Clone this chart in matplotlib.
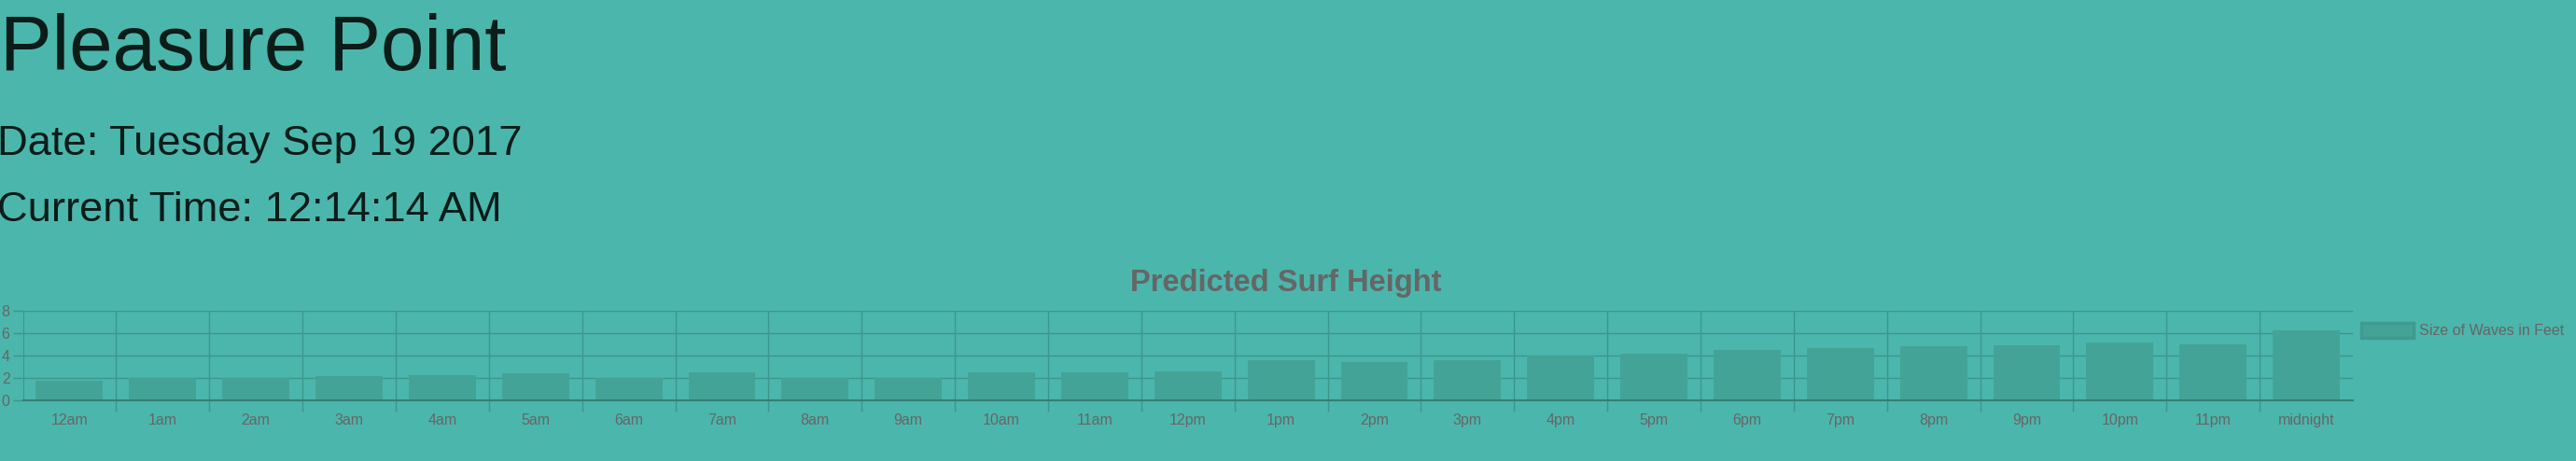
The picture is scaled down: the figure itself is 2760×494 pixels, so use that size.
import numpy as np
import matplotlib
matplotlib.use("Agg")
import matplotlib.pyplot as plt
from matplotlib.patches import Patch

# datos
horas = ["12am", "1am", "2am", "3am", "4am", "5am", "6am", "7am", "8am", "9am",
         "10am", "11am", "12pm", "1pm", "2pm", "3pm", "4pm", "5pm", "6pm", "7pm",
         "8pm", "9pm", "10pm", "11pm", "midnight"]
olas = [1.8, 2.0, 2.05, 2.15, 2.25, 2.4, 2.0, 2.5, 2.0, 2.0,
        2.5, 2.5, 2.6, 3.6, 3.4, 3.6, 4.0, 4.2, 4.5, 4.7,
        4.85, 4.95, 5.2, 5.05, 6.3]
y_ticks = [0, 2, 4, 6, 8]

titulo = "Pleasure Point"
fecha = "Date: Tuesday Sep 19 2017"
hora_actual = "Current Time: 12:14:14 AM"
titulo_grafico = "Predicted Surf Height"
leyenda = "Size of Waves in Feet"

fondo = "#4bb6ac"
barra = "#44a397"
grilla = "#3c978d"
gris = "#666666"
negro = "#0b1c19"

plt.rcParams["font.family"] = ["Liberation Sans", "DejaVu Sans"]

W, H = 2760, 494
fig = plt.figure(figsize=(W / 100, H / 100), dpi=100, facecolor=fondo)

# encabezados
fig.text(0, 1 - 75 / H, titulo, fontsize=60, color=negro, va="baseline", ha="left")
fig.text(-3 / W, 1 - 166 / H, fecha, fontsize=32.7, color=negro, va="baseline", ha="left")
fig.text(-3 / W, 1 - 237 / H, hora_actual, fontsize=32.6, color=negro, va="baseline", ha="left")
fig.text(1378 / W, 1 - 311.5 / H, titulo_grafico, fontsize=23.5, fontweight="bold",
         color=gris, va="baseline", ha="center")

# ejes del grafico
x0, x1 = 24.5, 2521
y_top, y_zero = 333.3, 429.3
ax = fig.add_axes([x0 / W, 1 - y_zero / H, (x1 - x0) / W, (y_zero - y_top) / H])
ax.set_facecolor(fondo)

xs = np.arange(len(horas))
ax.bar(xs, olas, width=0.72, color=barra, edgecolor="none", zorder=2)

ax.set_xlim(-0.5, len(horas) - 0.5)
ax.set_ylim(0, 8)
ax.set_xticks(xs)
ax.set_xticklabels(horas)
ax.set_xticks(np.arange(0.5, len(horas) - 1, 1.0), minor=True)
ax.set_yticks(y_ticks)

ax.tick_params(axis="x", which="major", length=0, pad=10, labelsize=11.5, labelcolor=gris)
ax.tick_params(axis="x", which="minor", length=8.5, width=1, color=grilla)
ax.tick_params(axis="y", which="major", length=8, width=1, color=grilla, pad=2,
               labelsize=11.5, labelcolor=gris)

ax.grid(True, axis="x", which="minor", color=grilla, linewidth=1, zorder=1)
ax.grid(True, axis="y", which="major", color=grilla, linewidth=1, zorder=1)

for s in ["top", "right"]:
    ax.spines[s].set_visible(False)
ax.spines["left"].set_color(grilla)
ax.spines["bottom"].set_color("#357f77")
ax.spines["bottom"].set_linewidth(1.5)
ax.spines["bottom"].set_zorder(3)

# leyenda a la derecha
mano = Patch(facecolor=barra, edgecolor="#3f9a8f", linewidth=2.5)
ax.legend([mano], [leyenda], loc="center left", bbox_to_anchor=(2530 / W, 1 - 354 / H),
          bbox_transform=fig.transFigure, frameon=False, fontsize=11.5,
          labelcolor=gris, handlelength=3.5, handleheight=1.15, handletextpad=0.4,
          borderpad=0, borderaxespad=0)

fig.savefig("out.png", dpi=100, facecolor=fondo)
